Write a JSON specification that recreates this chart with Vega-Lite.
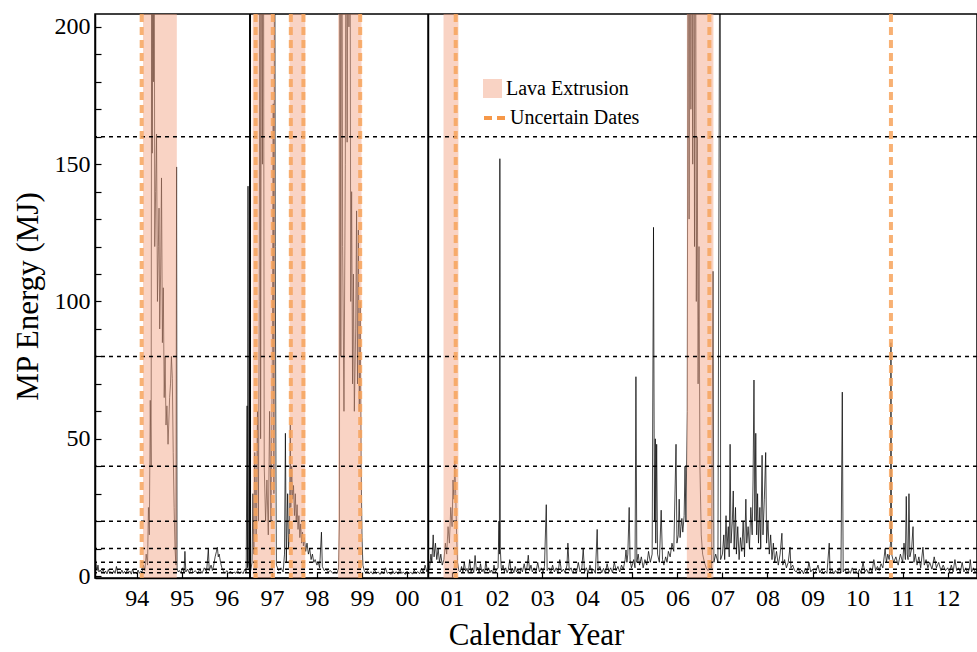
{
  "$schema": "https://vega.github.io/schema/vega-lite/v6.json",
  "width": 882,
  "height": 564,
  "autosize": {"type": "none"},
  "padding": {"left": 95, "top": 14, "right": 0, "bottom": 74},
  "background": "white",
  "config": {
    "font": "Liberation Serif",
    "view": {"stroke": "black", "strokeWidth": 1.5},
    "axis": {
      "labelFont": "Liberation Serif", "titleFont": "Liberation Serif",
      "labelColor": "black", "titleColor": "black", "domainColor": "black", "tickColor": "black",
      "titleFontWeight": "normal", "grid": false, "labelFontSize": 24, "titleFontSize": 31,
      "tickSize": -6, "domainWidth": 1.5, "tickWidth": 1.2, "labelOverlap": false, "labelFlush": false
    },
    "legend": {
      "labelFont": "Liberation Serif", "labelFontSize": 20, "labelColor": "black",
      "symbolSize": 361, "rowPadding": 4, "labelOffset": 3, "padding": 0
    }
  },
  "datasets": {
    "energy": [
      {"t":1993.075,"e":9},{"t":1993.09,"e":5},{"t":1993.105,"e":3.5},{"t":1993.12,"e":2},{"t":1993.14,"e":4},{"t":1993.16,"e":1.5},{"t":1993.19,"e":2.2},{"t":1993.22,"e":1.2},{"t":1993.25,"e":2.8},{"t":1993.28,"e":1},{"t":1993.31,"e":1.8},{"t":1993.34,"e":0.8},{"t":1993.37,"e":2.4},{"t":1993.4,"e":1.2},{"t":1993.43,"e":1.6},{"t":1993.46,"e":0.8},{"t":1993.49,"e":2},{"t":1993.52,"e":1},{"t":1993.55,"e":3.5},{"t":1993.58,"e":1},{"t":1993.61,"e":1.6},{"t":1993.64,"e":0.9},{"t":1993.67,"e":2.2},{"t":1993.7,"e":1},{"t":1993.73,"e":1.7},{"t":1993.76,"e":0.8},{"t":1993.79,"e":2.5},{"t":1993.82,"e":1.2},{"t":1993.85,"e":1.8},{"t":1993.88,"e":0.7},{"t":1993.91,"e":2.6},{"t":1993.94,"e":1},{"t":1993.97,"e":1.5},{"t":1994.0,"e":0.8},{"t":1994.03,"e":2.2},{"t":1994.06,"e":1},{"t":1994.09,"e":1.8},
      {"t":1994.12,"e":1.5},{"t":1994.15,"e":4},{"t":1994.18,"e":2},{"t":1994.21,"e":8},{"t":1994.24,"e":4},{"t":1994.26,"e":25},{"t":1994.28,"e":15},{"t":1994.3,"e":64},{"t":1994.32,"e":40},{"t":1994.335,"e":300},{"t":1994.345,"e":154},{"t":1994.355,"e":300},{"t":1994.37,"e":180},{"t":1994.385,"e":300},{"t":1994.4,"e":120},{"t":1994.42,"e":140},{"t":1994.44,"e":161},{"t":1994.46,"e":100},{"t":1994.48,"e":120},{"t":1994.495,"e":134},{"t":1994.51,"e":90},{"t":1994.53,"e":110},{"t":1994.55,"e":145},{"t":1994.57,"e":85},{"t":1994.59,"e":105},{"t":1994.61,"e":65},{"t":1994.63,"e":80},{"t":1994.65,"e":55},{"t":1994.67,"e":62},{"t":1994.695,"e":48},{"t":1994.71,"e":55},{"t":1994.73,"e":65},{"t":1994.75,"e":70},{"t":1994.77,"e":80},{"t":1994.79,"e":72},{"t":1994.81,"e":45},{"t":1994.83,"e":25},{"t":1994.85,"e":10},{"t":1994.87,"e":4},{"t":1994.885,"e":149},{"t":1994.895,"e":3},{"t":1994.92,"e":1.5},
      {"t":1994.95,"e":2},{"t":1994.98,"e":1},{"t":1995.02,"e":3},{"t":1995.05,"e":1.2},{"t":1995.07,"e":9},{"t":1995.09,"e":1.5},{"t":1995.13,"e":2.5},{"t":1995.17,"e":1},{"t":1995.21,"e":3},{"t":1995.25,"e":1.2},{"t":1995.3,"e":2},{"t":1995.35,"e":0.8},{"t":1995.4,"e":2.5},{"t":1995.45,"e":1},{"t":1995.5,"e":3},{"t":1995.55,"e":1.5},{"t":1995.59,"e":10},{"t":1995.61,"e":2},{"t":1995.65,"e":4},{"t":1995.68,"e":2},{"t":1995.71,"e":4},{"t":1995.74,"e":7},{"t":1995.77,"e":9},{"t":1995.79,"e":10.5},{"t":1995.81,"e":7},{"t":1995.83,"e":8},{"t":1995.86,"e":5},{"t":1995.89,"e":3},{"t":1995.92,"e":2},{"t":1995.96,"e":1},{"t":1996.0,"e":2},{"t":1996.04,"e":1},{"t":1996.08,"e":1.8},{"t":1996.12,"e":0.8},{"t":1996.16,"e":1.5},{"t":1996.2,"e":1},{"t":1996.24,"e":2},{"t":1996.28,"e":1},{"t":1996.32,"e":1.6},{"t":1996.36,"e":0.9},{"t":1996.4,"e":2.5},{"t":1996.43,"e":1.5},{"t":1996.45,"e":62},{"t":1996.46,"e":3},{"t":1996.47,"e":142},{"t":1996.48,"e":5},{"t":1996.5,"e":2},
      {"t":1996.53,"e":2},{"t":1996.56,"e":5},{"t":1996.58,"e":30},{"t":1996.6,"e":8},{"t":1996.62,"e":45},{"t":1996.65,"e":15},{"t":1996.68,"e":60},{"t":1996.7,"e":20},{"t":1996.72,"e":100},{"t":1996.737,"e":300},{"t":1996.75,"e":50},{"t":1996.775,"e":300},{"t":1996.79,"e":150},{"t":1996.81,"e":300},{"t":1996.83,"e":40},{"t":1996.86,"e":20},{"t":1996.89,"e":35},{"t":1996.92,"e":15},{"t":1996.95,"e":60},{"t":1996.98,"e":20},{"t":1997.01,"e":80},{"t":1997.03,"e":172},{"t":1997.045,"e":30},{"t":1997.06,"e":300},{"t":1997.075,"e":120},{"t":1997.09,"e":40},{"t":1997.1,"e":4},
      {"t":1997.15,"e":2},{"t":1997.2,"e":3},{"t":1997.25,"e":1.5},{"t":1997.28,"e":8},{"t":1997.3,"e":52},{"t":1997.32,"e":5},{"t":1997.35,"e":30},{"t":1997.37,"e":10},
      {"t":1997.39,"e":15},{"t":1997.41,"e":55},{"t":1997.42,"e":25},{"t":1997.44,"e":40},{"t":1997.46,"e":28},{"t":1997.48,"e":33},{"t":1997.5,"e":22},{"t":1997.52,"e":30},{"t":1997.54,"e":20},{"t":1997.56,"e":26},{"t":1997.58,"e":17},{"t":1997.6,"e":22},{"t":1997.62,"e":14},{"t":1997.64,"e":19},{"t":1997.66,"e":12},{"t":1997.68,"e":16},{"t":1997.7,"e":11},{"t":1997.72,"e":14},{"t":1997.75,"e":9},{"t":1997.78,"e":12},{"t":1997.81,"e":8},{"t":1997.84,"e":10},{"t":1997.87,"e":6},{"t":1997.9,"e":8},{"t":1997.93,"e":5},{"t":1997.96,"e":6},{"t":1998.0,"e":4},{"t":1998.03,"e":5},{"t":1998.06,"e":3},{"t":1998.1,"e":16},{"t":1998.12,"e":3.5},{"t":1998.16,"e":2},{"t":1998.2,"e":2.5},{"t":1998.25,"e":1.5},{"t":1998.3,"e":2},{"t":1998.35,"e":1},{"t":1998.4,"e":1.5},{"t":1998.45,"e":1},
      {"t":1998.48,"e":3},{"t":1998.5,"e":20},{"t":1998.51,"e":300},{"t":1998.53,"e":80},{"t":1998.55,"e":300},{"t":1998.57,"e":120},{"t":1998.6,"e":60},{"t":1998.63,"e":150},{"t":1998.65,"e":300},{"t":1998.67,"e":158},{"t":1998.69,"e":300},{"t":1998.71,"e":200},{"t":1998.73,"e":300},{"t":1998.75,"e":100},{"t":1998.77,"e":140},{"t":1998.79,"e":70},{"t":1998.81,"e":110},{"t":1998.83,"e":60},{"t":1998.86,"e":90},{"t":1998.88,"e":133},{"t":1998.9,"e":70},{"t":1998.92,"e":126},{"t":1998.94,"e":60},{"t":1998.96,"e":100},{"t":1998.98,"e":40},{"t":1999.0,"e":14},{"t":1999.02,"e":4},{"t":1999.05,"e":2},
      {"t":1999.08,"e":1.2},{"t":1999.12,"e":2},{"t":1999.16,"e":0.8},{"t":1999.2,"e":1.6},{"t":1999.24,"e":0.7},{"t":1999.28,"e":2.4},{"t":1999.32,"e":1},{"t":1999.36,"e":1.5},{"t":1999.4,"e":0.6},{"t":1999.44,"e":1.8},{"t":1999.48,"e":0.9},{"t":1999.52,"e":3},{"t":1999.56,"e":1},{"t":1999.6,"e":1.4},{"t":1999.64,"e":0.6},{"t":1999.68,"e":2},{"t":1999.72,"e":0.8},{"t":1999.76,"e":1.6},{"t":1999.8,"e":0.7},{"t":1999.84,"e":2.5},{"t":1999.88,"e":1},{"t":1999.92,"e":1.4},{"t":1999.96,"e":0.6},{"t":2000.0,"e":1.8},{"t":2000.04,"e":0.8},{"t":2000.08,"e":1.5},{"t":2000.12,"e":0.7},{"t":2000.16,"e":2.2},{"t":2000.2,"e":1},{"t":2000.24,"e":1.6},{"t":2000.28,"e":0.8},{"t":2000.32,"e":2.8},{"t":2000.36,"e":1.2},{"t":2000.4,"e":4},{"t":2000.44,"e":1.5},{"t":2000.47,"e":2.5},
      {"t":2000.5,"e":3},{"t":2000.53,"e":8},{"t":2000.55,"e":5},{"t":2000.58,"e":15},{"t":2000.6,"e":7},{"t":2000.63,"e":12},{"t":2000.66,"e":6},{"t":2000.69,"e":10},{"t":2000.72,"e":5},{"t":2000.75,"e":8},{"t":2000.78,"e":4},{"t":2000.82,"e":6},{"t":2000.85,"e":12},{"t":2000.88,"e":8},{"t":2000.91,"e":18},{"t":2000.94,"e":12},{"t":2000.97,"e":25},{"t":2001.0,"e":18},{"t":2001.02,"e":35},{"t":2001.04,"e":28},{"t":2001.06,"e":42},{"t":2001.08,"e":30},{"t":2001.1,"e":15},{"t":2001.12,"e":5},{"t":2001.15,"e":2},
      {"t":2001.18,"e":1.5},{"t":2001.21,"e":3.5},{"t":2001.24,"e":1.2},{"t":2001.27,"e":5},{"t":2001.3,"e":1.8},{"t":2001.33,"e":2.8},{"t":2001.36,"e":1},{"t":2001.39,"e":6},{"t":2001.42,"e":1.5},{"t":2001.45,"e":3},{"t":2001.48,"e":1.2},{"t":2001.51,"e":7.5},{"t":2001.54,"e":2},{"t":2001.57,"e":3.2},{"t":2001.6,"e":1.2},{"t":2001.63,"e":4.5},{"t":2001.66,"e":1.5},{"t":2001.69,"e":2.6},{"t":2001.72,"e":1},{"t":2001.75,"e":5.5},{"t":2001.78,"e":1.8},{"t":2001.81,"e":3},{"t":2001.84,"e":1.2},{"t":2001.87,"e":2.2},{"t":2001.9,"e":1},{"t":2001.93,"e":4},{"t":2001.96,"e":1.5},{"t":2002.0,"e":2.5},
      {"t":2002.02,"e":3},{"t":2002.04,"e":20},{"t":2002.05,"e":8},{"t":2002.06,"e":152},{"t":2002.07,"e":10},{"t":2002.09,"e":3},
      {"t":2002.1,"e":2},{"t":2002.13,"e":4},{"t":2002.16,"e":1.5},{"t":2002.19,"e":3},{"t":2002.22,"e":1.2},{"t":2002.25,"e":2.5},{"t":2002.28,"e":6},{"t":2002.31,"e":1.5},{"t":2002.34,"e":2.8},{"t":2002.37,"e":1.2},{"t":2002.4,"e":3.5},{"t":2002.43,"e":1.5},{"t":2002.46,"e":2.2},{"t":2002.5,"e":1},{"t":2002.53,"e":3},{"t":2002.56,"e":1.5},{"t":2002.6,"e":4.5},{"t":2002.63,"e":1.5},{"t":2002.66,"e":3},{"t":2002.69,"e":7.6},{"t":2002.72,"e":2},{"t":2002.75,"e":4},{"t":2002.78,"e":1.5},{"t":2002.82,"e":3},{"t":2002.86,"e":1.2},{"t":2002.9,"e":5},{"t":2002.94,"e":1.5},{"t":2002.98,"e":3},{"t":2003.02,"e":1.2},{"t":2003.05,"e":3.5},{"t":2003.09,"e":26},{"t":2003.11,"e":2},{"t":2003.15,"e":3},{"t":2003.19,"e":1.2},{"t":2003.23,"e":4},{"t":2003.27,"e":1.5},{"t":2003.31,"e":3},{"t":2003.35,"e":1},{"t":2003.39,"e":6},{"t":2003.43,"e":1.5},{"t":2003.47,"e":2.5},{"t":2003.51,"e":1.2},{"t":2003.55,"e":4},{"t":2003.57,"e":12},{"t":2003.6,"e":2},{"t":2003.64,"e":3},{"t":2003.68,"e":1},{"t":2003.72,"e":2.8},{"t":2003.76,"e":1.2},{"t":2003.8,"e":5},{"t":2003.84,"e":1.5},{"t":2003.88,"e":3},{"t":2003.91,"e":10},{"t":2003.94,"e":1.5},{"t":2003.98,"e":3},{"t":2004.02,"e":1},{"t":2004.06,"e":4},{"t":2004.1,"e":1.5},{"t":2004.14,"e":2.5},{"t":2004.18,"e":1},{"t":2004.22,"e":17},{"t":2004.24,"e":2},{"t":2004.28,"e":3.5},{"t":2004.32,"e":1.2},{"t":2004.36,"e":2.8},{"t":2004.4,"e":1},{"t":2004.44,"e":4.5},{"t":2004.48,"e":1.5},{"t":2004.52,"e":3},{"t":2004.56,"e":1.2},{"t":2004.6,"e":5},{"t":2004.64,"e":2},{"t":2004.68,"e":3.5},{"t":2004.72,"e":1.5},{"t":2004.76,"e":4},{"t":2004.8,"e":2.5},{"t":2004.84,"e":6},{"t":2004.86,"e":9.5},{"t":2004.88,"e":5},{"t":2004.9,"e":8},{"t":2004.93,"e":25},{"t":2004.95,"e":6},{"t":2004.98,"e":3},
      {"t":2005.0,"e":4},{"t":2005.03,"e":6},{"t":2005.06,"e":3},{"t":2005.08,"e":72.6},{"t":2005.1,"e":5},{"t":2005.13,"e":8},{"t":2005.16,"e":4},{"t":2005.2,"e":7},{"t":2005.24,"e":3},{"t":2005.28,"e":6},{"t":2005.32,"e":4},{"t":2005.36,"e":9},{"t":2005.4,"e":5},{"t":2005.44,"e":8},{"t":2005.47,"e":127},{"t":2005.49,"e":20},{"t":2005.51,"e":50},{"t":2005.52,"e":12},{"t":2005.54,"e":48},{"t":2005.56,"e":8},{"t":2005.6,"e":5},{"t":2005.64,"e":24},{"t":2005.67,"e":6},{"t":2005.7,"e":4},{"t":2005.74,"e":7},{"t":2005.77,"e":5},{"t":2005.8,"e":9},{"t":2005.84,"e":7},{"t":2005.88,"e":12},{"t":2005.92,"e":9},{"t":2005.97,"e":48},{"t":2005.99,"e":12},{"t":2006.02,"e":15},{"t":2006.04,"e":28},{"t":2006.06,"e":14},{"t":2006.08,"e":18},{"t":2006.1,"e":21},{"t":2006.12,"e":16},{"t":2006.15,"e":22},{"t":2006.17,"e":40},{"t":2006.19,"e":20},
      {"t":2006.22,"e":60},{"t":2006.24,"e":300},{"t":2006.26,"e":130},{"t":2006.28,"e":300},{"t":2006.3,"e":170},{"t":2006.32,"e":300},{"t":2006.34,"e":150},{"t":2006.36,"e":300},{"t":2006.38,"e":120},{"t":2006.4,"e":300},{"t":2006.42,"e":100},{"t":2006.44,"e":160},{"t":2006.46,"e":70},{"t":2006.48,"e":120},{"t":2006.5,"e":40},{"t":2006.53,"e":15},{"t":2006.56,"e":8},{"t":2006.6,"e":5},{"t":2006.64,"e":3},{"t":2006.68,"e":2},{"t":2006.72,"e":4},{"t":2006.76,"e":3},{"t":2006.79,"e":111},{"t":2006.81,"e":5},{"t":2006.85,"e":8},{"t":2006.9,"e":5},{"t":2006.95,"e":300},{"t":2006.96,"e":6},
      {"t":2007.0,"e":8},{"t":2007.03,"e":15},{"t":2007.05,"e":6},{"t":2007.08,"e":22},{"t":2007.1,"e":10},{"t":2007.13,"e":18},{"t":2007.15,"e":7},{"t":2007.17,"e":48},{"t":2007.19,"e":12},{"t":2007.22,"e":20},{"t":2007.24,"e":31},{"t":2007.26,"e":10},{"t":2007.29,"e":25},{"t":2007.31,"e":8},{"t":2007.34,"e":18},{"t":2007.37,"e":6},{"t":2007.4,"e":14},{"t":2007.43,"e":9},{"t":2007.46,"e":20},{"t":2007.49,"e":7},{"t":2007.52,"e":28},{"t":2007.54,"e":12},{"t":2007.57,"e":18},{"t":2007.6,"e":10},{"t":2007.63,"e":25},{"t":2007.66,"e":15},{"t":2007.68,"e":35},{"t":2007.7,"e":71.4},{"t":2007.72,"e":20},{"t":2007.74,"e":52},{"t":2007.76,"e":15},{"t":2007.78,"e":30},{"t":2007.8,"e":12},{"t":2007.83,"e":25},{"t":2007.85,"e":10},{"t":2007.88,"e":44},{"t":2007.9,"e":15},{"t":2007.93,"e":28},{"t":2007.96,"e":45},{"t":2007.98,"e":12},{"t":2008.01,"e":20},{"t":2008.04,"e":8},{"t":2008.07,"e":15},{"t":2008.1,"e":6},{"t":2008.13,"e":12},{"t":2008.16,"e":5},{"t":2008.2,"e":9},{"t":2008.24,"e":4},{"t":2008.28,"e":8},{"t":2008.32,"e":15.6},{"t":2008.34,"e":4},{"t":2008.38,"e":6},{"t":2008.42,"e":3},{"t":2008.46,"e":5},{"t":2008.5,"e":10.6},{"t":2008.52,"e":3},{"t":2008.56,"e":4},{"t":2008.6,"e":2},
      {"t":2008.64,"e":1.5},{"t":2008.68,"e":3},{"t":2008.72,"e":1},{"t":2008.76,"e":2.2},{"t":2008.8,"e":0.8},{"t":2008.84,"e":2.8},{"t":2008.88,"e":1.2},{"t":2008.92,"e":5},{"t":2008.96,"e":1.5},{"t":2009.0,"e":2.5},{"t":2009.04,"e":0.8},{"t":2009.08,"e":2},{"t":2009.12,"e":4},{"t":2009.16,"e":1.2},{"t":2009.2,"e":2.5},{"t":2009.24,"e":0.8},{"t":2009.28,"e":1.8},{"t":2009.32,"e":1},{"t":2009.37,"e":12},{"t":2009.39,"e":1.5},{"t":2009.43,"e":2.5},{"t":2009.47,"e":0.8},{"t":2009.51,"e":2},{"t":2009.55,"e":1},{"t":2009.59,"e":3},{"t":2009.63,"e":1.2},{"t":2009.66,"e":67},{"t":2009.68,"e":1.5},{"t":2009.72,"e":2.5},{"t":2009.76,"e":0.8},{"t":2009.8,"e":2},{"t":2009.84,"e":1},{"t":2009.88,"e":3},{"t":2009.92,"e":1.2},{"t":2009.96,"e":2},{"t":2010.0,"e":0.8},{"t":2010.04,"e":2.5},{"t":2010.08,"e":1},{"t":2010.12,"e":5},{"t":2010.16,"e":1.5},{"t":2010.2,"e":2.5},{"t":2010.24,"e":1},{"t":2010.28,"e":3},{"t":2010.32,"e":1.2},{"t":2010.36,"e":6},{"t":2010.4,"e":2},{"t":2010.44,"e":3.5},{"t":2010.48,"e":2},{"t":2010.52,"e":4.5},{"t":2010.56,"e":3},{"t":2010.59,"e":7},{"t":2010.61,"e":10},{"t":2010.64,"e":5},{"t":2010.67,"e":8},{"t":2010.7,"e":6},{"t":2010.73,"e":12},{"t":2010.74,"e":85},{"t":2010.755,"e":8},
      {"t":2010.8,"e":5},{"t":2010.85,"e":7},{"t":2010.9,"e":4},{"t":2010.95,"e":8},{"t":2011.0,"e":5},{"t":2011.03,"e":12},{"t":2011.06,"e":6},{"t":2011.08,"e":29},{"t":2011.1,"e":8},{"t":2011.12,"e":6},{"t":2011.14,"e":30},{"t":2011.16,"e":7},{"t":2011.2,"e":10},{"t":2011.23,"e":18},{"t":2011.25,"e":5},{"t":2011.28,"e":8},{"t":2011.32,"e":4},{"t":2011.36,"e":7},{"t":2011.4,"e":3},{"t":2011.45,"e":10.5},{"t":2011.48,"e":4},{"t":2011.52,"e":6},{"t":2011.56,"e":3},{"t":2011.6,"e":5},{"t":2011.65,"e":2.5},{"t":2011.7,"e":7},{"t":2011.75,"e":3},{"t":2011.8,"e":5},{"t":2011.85,"e":2},{"t":2011.9,"e":4},{"t":2011.95,"e":2},
      {"t":2012.0,"e":3},{"t":2012.04,"e":1.5},{"t":2012.08,"e":4},{"t":2012.12,"e":1.5},{"t":2012.16,"e":6},{"t":2012.2,"e":2},{"t":2012.24,"e":3},{"t":2012.28,"e":1.2},{"t":2012.32,"e":5},{"t":2012.36,"e":1.5},{"t":2012.4,"e":3},{"t":2012.44,"e":1.2},{"t":2012.48,"e":2.5},{"t":2012.5,"e":6},{"t":2012.53,"e":1.5},{"t":2012.57,"e":3},{"t":2012.61,"e":1.2},{"t":2012.65,"e":2.5}
    ],
    "bands": [
      {"start":1994.14,"end":1994.89,"kind":"Lava Extrusion"},
      {"start":1996.575,"end":1997.07,"kind":"Lava Extrusion"},
      {"start":1997.39,"end":1997.74,"kind":"Lava Extrusion"},
      {"start":1998.47,"end":1998.99,"kind":"Lava Extrusion"},
      {"start":2000.81,"end":2001.14,"kind":"Lava Extrusion"},
      {"start":2006.21,"end":2006.8,"kind":"Lava Extrusion"}
    ],
    "uncertain": [
      {"t":1994.11,"kind":"Uncertain Dates"},{"t":1996.64,"kind":"Uncertain Dates"},{"t":1997.02,"kind":"Uncertain Dates"},{"t":1997.42,"kind":"Uncertain Dates"},{"t":1997.7,"kind":"Uncertain Dates"},{"t":1998.96,"kind":"Uncertain Dates"},{"t":2001.08,"kind":"Uncertain Dates"},{"t":2006.71,"kind":"Uncertain Dates"},{"t":2010.74,"kind":"Uncertain Dates"}
    ],
    "events": [{"t":1996.515},{"t":2000.47}],
    "levels": [{"level":160},{"level":80},{"level":40},{"level":20},{"level":10},{"level":5},{"level":2.5},{"level":1.25}]
  },
  "layer": [
    {
      "data": {"name": "energy"},
      "mark": {"type": "line", "color": "black", "strokeWidth": 0.8, "opacity": 0.9, "clip": true, "interpolate": "linear"},
      "encoding": {
        "x": {"field": "t", "type": "quantitative", "title": "Calendar Year",
          "scale": {"domain": [1993.074, 2012.65], "nice": false, "zero": false},
          "axis": {"values": [1994,1995,1996,1997,1998,1999,2000,2001,2002,2003,2004,2005,2006,2007,2008,2009,2010,2011,2012],
                   "labelExpr": "substring(toString(datum.value), 2, 4)", "labelPadding": 14, "titlePadding": 10, "labelOverlap": false}},
        "y": {"field": "e", "type": "quantitative", "title": "MP Energy (MJ)",
          "scale": {"domain": [-0.7, 204.7], "nice": false, "zero": false},
          "axis": {"values": [0,10,20,30,40,50,60,70,80,90,100,110,120,130,140,150,160,170,180,190,200],
                   "labelExpr": "datum.value % 50 === 0 ? toString(datum.value) : ''",
                   "labelFontSize": {"condition": {"test": "datum.value % 50 !== 0", "value": 1}, "value": 24},
                   "labelPadding": 11, "titlePadding": 10, "labelOverlap": false}}
      }
    },
    {
      "data": {"name": "bands"},
      "mark": {"type": "rect", "opacity": 0.5},
      "encoding": {
        "x": {"field": "start", "type": "quantitative", "title": "Calendar Year",
          "scale": {"domain": [1993.074, 2012.65], "nice": false, "zero": false},
          "axis": {"values": [1994,1995,1996,1997,1998,1999,2000,2001,2002,2003,2004,2005,2006,2007,2008,2009,2010,2011,2012],
                   "labelExpr": "substring(toString(datum.value), 2, 4)", "labelPadding": 14, "titlePadding": 10, "labelOverlap": false}},
        "x2": {"field": "end"},
        "color": {"field": "kind", "type": "nominal",
          "scale": {"domain": ["Lava Extrusion"], "range": ["#f3a789"]},
          "legend": {"title": null, "orient": "none", "legendX": 387, "legendY": 64, "symbolType": "square", "labelOffset": 3}
        }
      }
    },
    {
      "data": {"name": "levels"},
      "mark": {"type": "rule", "color": "black", "strokeWidth": 1.5, "strokeDash": [4, 4]},
      "encoding": {"y": {"field": "level", "type": "quantitative", "title": "MP Energy (MJ)",
          "scale": {"domain": [-0.7, 204.7], "nice": false, "zero": false},
          "axis": {"values": [0,10,20,30,40,50,60,70,80,90,100,110,120,130,140,150,160,170,180,190,200],
                   "labelExpr": "datum.value % 50 === 0 ? toString(datum.value) : ''",
                   "labelFontSize": {"condition": {"test": "datum.value % 50 !== 0", "value": 1}, "value": 24},
                   "labelPadding": 11, "titlePadding": 10, "labelOverlap": false}}}
    },
    {
      "data": {"name": "events"},
      "mark": {"type": "rule", "color": "black", "strokeWidth": 2},
      "encoding": {"x": {"field": "t", "type": "quantitative", "title": "Calendar Year",
          "scale": {"domain": [1993.074, 2012.65], "nice": false, "zero": false},
          "axis": {"values": [1994,1995,1996,1997,1998,1999,2000,2001,2002,2003,2004,2005,2006,2007,2008,2009,2010,2011,2012],
                   "labelExpr": "substring(toString(datum.value), 2, 4)", "labelPadding": 14, "titlePadding": 10, "labelOverlap": false}}}
    },
    {
      "data": {"name": "uncertain"},
      "mark": {"type": "rule", "strokeWidth": 4, "opacity": 0.85, "color": "#f7a35c"},
      "encoding": {
        "x": {"field": "t", "type": "quantitative", "title": "Calendar Year",
          "scale": {"domain": [1993.074, 2012.65], "nice": false, "zero": false},
          "axis": {"values": [1994,1995,1996,1997,1998,1999,2000,2001,2002,2003,2004,2005,2006,2007,2008,2009,2010,2011,2012],
                   "labelExpr": "substring(toString(datum.value), 2, 4)", "labelPadding": 14, "titlePadding": 10, "labelOverlap": false}},
        "strokeDash": {"field": "kind", "type": "nominal",
          "scale": {"domain": ["Uncertain Dates"], "range": [[8, 5]]},
          "legend": {"title": null, "orient": "none", "legendX": 387, "legendY": 90, "symbolType": "stroke", "symbolSize": 576, "symbolStrokeWidth": 4, "symbolStrokeColor": "#f5872a", "labelOffset": 0}}
      }
    }
  ]
}
